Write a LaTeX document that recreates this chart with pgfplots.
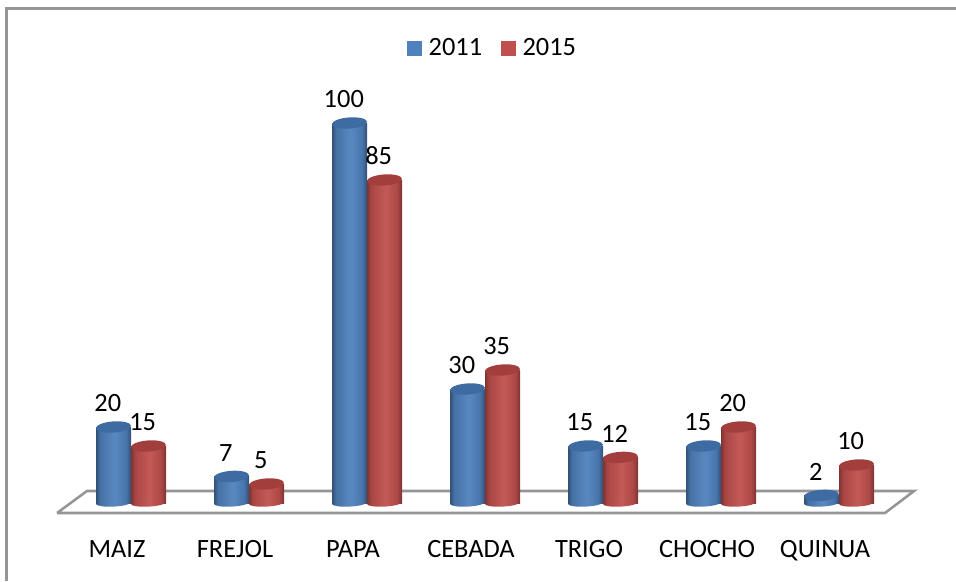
\documentclass[border=0pt]{standalone}
\usepackage{fontspec}
\setmainfont{Carlito}
\newfontfamily\titlefont{Liberation Serif}
\usepackage{pgfplots}
\usepackage{pgfplotstable}
\usetikzlibrary{shapes.geometric}
\pgfplotsset{compat=1.18}

\definecolor{framegray}{HTML}{959595}
\definecolor{bluekey}{HTML}{4F81BD}
\definecolor{redkey}{HTML}{C0504D}
\definecolor{bluetop}{HTML}{3E6BA1}
\definecolor{redtop}{HTML}{A23F3C}

\pgfdeclarehorizontalshading{bluecyl}{100bp}{
  color(0bp)=(black!38!bluekey); color(25bp)=(black!38!bluekey);
  color(31bp)=(black!12!bluekey); color(52bp)=(white!6!bluekey);
  color(68bp)=(black!10!bluekey); color(75bp)=(black!38!bluekey);
  color(100bp)=(black!38!bluekey)}
\pgfdeclarehorizontalshading{redcyl}{100bp}{
  color(0bp)=(black!35!redkey); color(25bp)=(black!35!redkey);
  color(31bp)=(black!12!redkey); color(52bp)=(white!6!redkey);
  color(68bp)=(black!10!redkey); color(75bp)=(black!35!redkey);
  color(100bp)=(black!35!redkey)}

% cylinder top, 1px = 0.75pt
\pgfdeclareplotmark{topcyl}{\pgftransformrotate{4}\pgfpathellipse{\pgfpointorigin}{\pgfqpoint{13.1pt}{0pt}}{\pgfqpoint{0pt}{4.2pt}}\pgfusepathqfill}

\pgfplotsset{
  bluebar/.style={ybar,bar width=26.25pt,bar shift=-13.125pt,draw=none,shade,shading=bluecyl,forget plot},
  redbar/.style={ybar,bar width=26.25pt,bar shift=13.125pt,draw=none,shade,shading=redcyl,forget plot},
  cylbase/.style={only marks,mark=none,forget plot,point meta=explicit symbolic,
    nodes near coords={},nodes near coords align={center},
    every node near coord/.style={shape=ellipse,shade,shading=#1,minimum width=26.2pt,minimum height=5.4pt,inner sep=0pt,rotate=3,anchor=center}},
}

\pgfplotstableread{
x y2011 y2015 base
0 20 15 0
1 7 5 0
2 100 85 0
3 30 35 0
4 15 12 0
5 15 20 0
6 2 10 0
}\crops

\begin{document}
\begin{tikzpicture}
\begin{axis}[
    name=ax,
    x=88.5pt, y=2.85pt,
    xmin=-1.1102, xmax=6.9915,
    ymin=-20.53, ymax=132.37,
    clip=false,
    axis line style={draw=none},
    major tick length=0pt,
    ytick=\empty,
    xtick={0,...,6},
    xticklabels={MAIZ,FREJOL,PAPA,CEBADA,TRIGO,CHOCHO,QUINUA},
    xticklabel style={font=\fontsize{19.8}{23}\selectfont,anchor=base,yshift=18pt,xshift=-10.5pt},
    legend style={at={(0.5156,0.917)},anchor=center,draw=none,fill=none,
        legend columns=2,font=\fontsize{19.8}{23}\selectfont,
        /tikz/every odd column/.append style={column sep=3.4pt},
        /tikz/every even column/.append style={column sep=12pt}},
    /pgf/number format/assume math mode=true,
]
% frame: only top and left are in the picture
\addplot[framegray,line width=1.9pt,forget plot] coordinates {(-1.055,-20.53)(-1.055,130.13)(6.9915,130.13)};
% floor
\addplot[framegray,line width=1.9pt,forget plot] coordinates {(-0.627,-2.63)(-0.373,3.16)(6.636,3.16)(6.390,-2.63)(-0.627,-2.63)};

% 2011
\addplot[cylbase=bluecyl] table[x expr=\thisrow{x}-0.148,y=base,meta=base] {\crops};
\addplot[bluebar] coordinates {(0,20)};
\addplot[bluebar] coordinates {(1,7)};
\addplot[bluebar] coordinates {(2,100)};
\addplot[bluebar] coordinates {(3,30)};
\addplot[bluebar] coordinates {(4,15)};
\addplot[bluebar] coordinates {(5,15)};
\addplot[bluebar] coordinates {(6,2)};
\addplot[only marks,mark=topcyl,mark options={fill=bluetop,draw=none},forget plot,nodes near coords,
    every node near coord/.append style={font=\fontsize{19.8}{23}\selectfont,text=black,inner sep=0pt,yshift=11pt,xshift=-4.3pt}]
    table[x expr=\thisrow{x}-0.148,y=y2011] {\crops};
% 2015
\addplot[cylbase=redcyl] table[x expr=\thisrow{x}+0.148,y=base,meta=base] {\crops};
\addplot[redbar] coordinates {(0,15)};
\addplot[redbar] coordinates {(1,5)};
\addplot[redbar] coordinates {(2,85)};
\addplot[redbar] coordinates {(3,35)};
\addplot[redbar] coordinates {(4,12)};
\addplot[redbar] coordinates {(5,20)};
\addplot[redbar] coordinates {(6,10)};
\addplot[only marks,mark=topcyl,mark options={fill=redtop,draw=none},forget plot,nodes near coords,
    every node near coord/.append style={font=\fontsize{19.8}{23}\selectfont,text=black,inner sep=0pt,yshift=11pt,xshift=-4.3pt}]
    table[x expr=\thisrow{x}+0.148,y=y2015] {\crops};

\addlegendimage{legend image code/.code={\fill[bluekey] (0pt,-5.2pt) rectangle (10.4pt,5.2pt);}}
\addlegendentry{2011}
\addlegendimage{legend image code/.code={\fill[redkey] (0pt,-5.2pt) rectangle (10.4pt,5.2pt);}}
\addlegendentry{2015}

% descender of the cut off title above the frame
\node[font=\titlefont\fontsize{12}{14}\selectfont,anchor=base] at (axis cs:4.246,133.16) {p};
\end{axis}
\pgfresetboundingbox
\path[use as bounding box] (ax.south west) rectangle (ax.north east);
\end{tikzpicture}
\end{document}
